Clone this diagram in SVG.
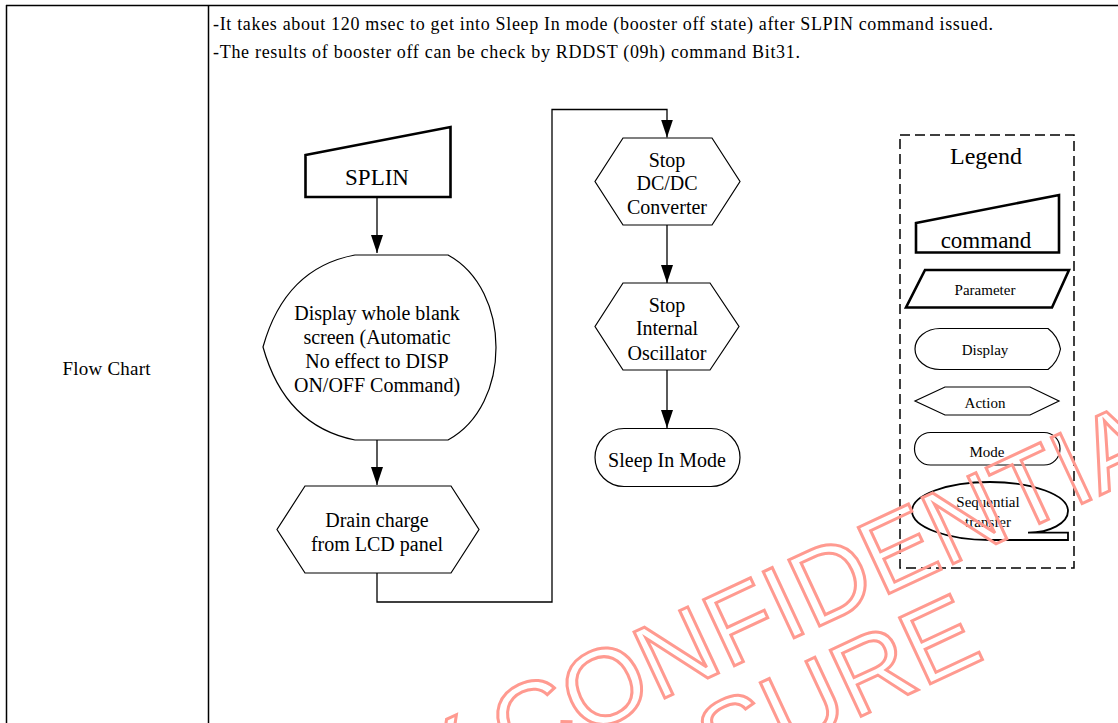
<svg xmlns="http://www.w3.org/2000/svg" width="1118" height="723" viewBox="0 0 1118 723">
  <defs>
    <marker id="arrow" viewBox="0 0 18 12" markerWidth="18" markerHeight="12" refX="18" refY="6" orient="auto" markerUnits="userSpaceOnUse">
      <path d="M0,0 L18,6 L0,12 Z" fill="#000"/>
    </marker>
    <style>
      .t { font-family: "Liberation Serif", "Times New Roman", serif; fill: #000; }
      .f20 { font-size: 20px; }
      .f15 { font-size: 15px; }
      .shape { fill: #fff; stroke: #000; stroke-width: 1.2; }
      .thick { fill: #fff; stroke: #000; stroke-width: 2.6; stroke-linejoin: miter; }
      .conn { fill: none; stroke: #000; stroke-width: 1.3; }
      .grid { fill: none; stroke: #000; stroke-width: 1.5; }
      .dash { fill: none; stroke: #000; stroke-width: 1.5; stroke-dasharray: 10 5; }
      .wm { font-family: "Liberation Sans", Arial, sans-serif; font-size: 106px; fill: none; stroke: #ff9a90; stroke-width: 3; }
    </style>
  </defs>

  <!-- table frame -->
  <g id="table">
    <path class="grid" d="M6,5.5 H1118 M6.5,5 V723 M208.5,5 V723"/>
    <text class="t" x="213" y="30" font-size="18" textLength="780" lengthAdjust="spacing">-It takes about 120 msec to get into Sleep In mode (booster off state) after SLPIN command issued.</text>
    <text class="t" x="213" y="58" font-size="18" textLength="587" lengthAdjust="spacing">-The results of booster off can be check by RDDST (09h) command Bit31.</text>
    <text class="t" x="62.5" y="375" font-size="19" textLength="88" lengthAdjust="spacing">Flow Chart</text>
  </g>

  <!-- connectors -->
  <g id="connectors">
    <path class="conn" d="M377,197 V253" marker-end="url(#arrow)"/>
    <path class="conn" d="M377,440 V485" marker-end="url(#arrow)"/>
    <path class="conn" d="M377,573 V602 H552 V109.5 H667 V137.5" marker-end="url(#arrow)"/>
    <path class="conn" d="M667,225 V283" marker-end="url(#arrow)"/>
    <path class="conn" d="M667,370 V428" marker-end="url(#arrow)"/>
  </g>

  <!-- flow nodes -->
  <g id="splin">
    <polygon class="thick" points="305.5,155 450.5,127 450.5,197 305.5,197"/>
    <text class="t" x="377" y="185" font-size="23" text-anchor="middle">SPLIN</text>
  </g>

  <g id="display-blank">
    <path class="shape" d="M355,255 L448,255 C512,290 512,405 448,440 L355,440 Q285,426 263,347 Q285,268 355,255 Z"/>
    <g class="t f20" text-anchor="middle">
      <text x="377" y="320">Display whole blank</text>
      <text x="377" y="344">screen (Automatic</text>
      <text x="377" y="368">No effect to DISP</text>
      <text x="377" y="392">ON/OFF Command)</text>
    </g>
  </g>

  <g id="drain-charge">
    <polygon class="shape" points="305,486 451,486 479,529.5 451,573 305,573 277,529.5"/>
    <g class="t f20" text-anchor="middle">
      <text x="377" y="527">Drain charge</text>
      <text x="377" y="551">from LCD panel</text>
    </g>
  </g>

  <g id="stop-dcdc">
    <polygon class="shape" points="623,138 712,138 740,181.5 712,225 623,225 595,181.5"/>
    <g class="t f20" text-anchor="middle">
      <text x="667" y="167">Stop</text>
      <text x="667" y="190">DC/DC</text>
      <text x="667" y="213.5">Converter</text>
    </g>
  </g>

  <g id="stop-osc">
    <polygon class="shape" points="623,283 710,283 739,326.5 710,370 623,370 595,326.5"/>
    <g class="t f20" text-anchor="middle">
      <text x="667" y="312">Stop</text>
      <text x="667" y="335">Internal</text>
      <text x="667" y="359.5">Oscillator</text>
    </g>
  </g>

  <g id="sleep-in">
    <rect class="shape" x="595" y="428.5" width="145" height="58" rx="29" ry="29"/>
    <text class="t f20" x="667" y="466.5" text-anchor="middle">Sleep In Mode</text>
  </g>

  <!-- legend -->
  <g id="legend">
    <rect class="dash" x="900" y="135" width="174" height="433"/>
    <text class="t" x="986" y="164" font-size="24" text-anchor="middle">Legend</text>

    <g id="legend-command">
      <polygon class="thick" points="916,223 1059,195 1059,252.5 916,252.5"/>
      <text class="t" x="986" y="247.5" font-size="23" text-anchor="middle">command</text>
    </g>
    <g id="legend-parameter">
      <polygon class="thick" points="925,270 1069,270 1052,307.5 906,307.5"/>
      <text class="t f15" x="985" y="295" text-anchor="middle">Parameter</text>
    </g>
    <g id="legend-display">
      <path class="shape" d="M940,328.5 L1048,328.5 Q1058,336 1060.5,349 Q1058,362 1048,369.5 L940,369.5 A25,20.5 0 0 1 940,328.5 Z"/>
      <text class="t f15" x="985" y="355" text-anchor="middle">Display</text>
    </g>
    <g id="legend-action">
      <polygon class="shape" points="945,387 1030,387 1059,401 1030,415 945,415 915,401"/>
      <text class="t f15" x="985" y="407.5" text-anchor="middle">Action</text>
    </g>
    <g id="legend-mode">
      <rect class="shape" x="914.5" y="432.5" width="145.5" height="32.5" rx="16" ry="16"/>
      <text class="t f15" x="987" y="456.5" text-anchor="middle">Mode</text>
    </g>
    <g id="legend-sequential">
      <path class="shape" style="stroke-width:1.8" d="M990,540 C946.9,540 912,527 912,511 C912,495 946.9,482 990,482 C1033.1,482 1068,495 1068,511 C1068,523 1050,532.7 1028,532.7 L1068,532.7 L1068,540 Z"/>
      <g class="t f15" text-anchor="middle">
        <text x="988" y="507">Sequential</text>
        <text x="988" y="527">transfer</text>
      </g>
    </g>
  </g>

  <!-- outlined watermark lettering -->
  <g id="watermark">
    <text class="wm" transform="translate(513,769) rotate(-25)" text-anchor="end" x="-26">Y</text>
    <text class="wm" transform="translate(513,769) rotate(-25)">CONFIDENTIAL</text>
    <text class="wm" transform="translate(645,817) rotate(-25)">OSURE</text>
  </g>
</svg>
